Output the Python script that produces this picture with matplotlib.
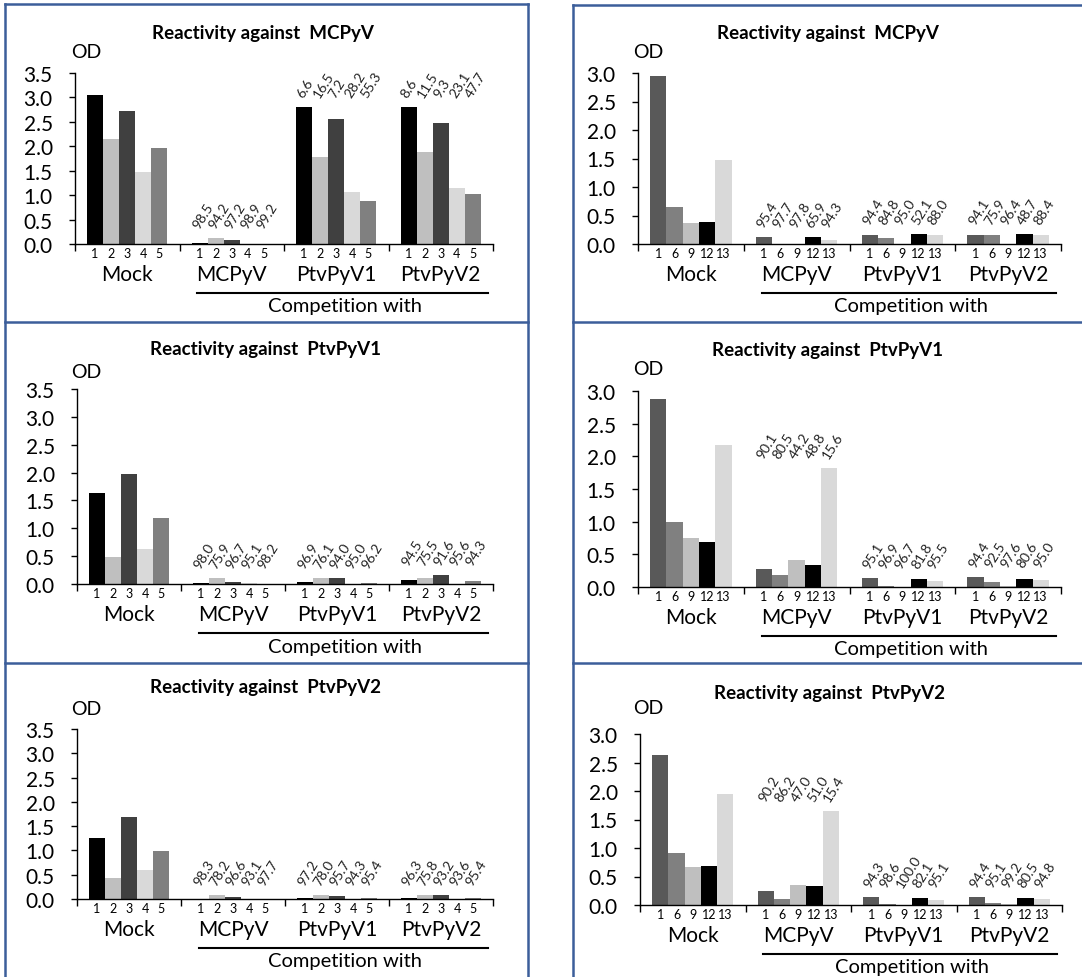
import numpy as np
import matplotlib
matplotlib.use('Agg')
import matplotlib.pyplot as plt
from matplotlib.transforms import ScaledTranslation
from matplotlib.lines import Line2D

plt.rcParams['font.family'] = ['Lato', 'DejaVu Sans']

W, H = 1082, 978

# ---- data -------------------------------------------------------------
groups = ['Mock', 'MCPyV', 'PtvPyV1', 'PtvPyV2']

# left column: sera 1-5
sera_left = ['1', '2', '3', '4', '5']
colors_left = ['#000000', '#bfbfbf', '#404040', '#d9d9d9', '#808080']
# right column: sera 1, 6, 9, 12, 13
sera_right = ['1', '6', '9', '12', '13']
colors_right = ['#595959', '#808080', '#bfbfbf', '#000000', '#d9d9d9']

# OD per group (rows: Mock, MCPyV, PtvPyV1, PtvPyV2), columns = sera
od_l_mcpyv = [[3.05, 2.15, 2.73, 1.48, 1.97],
              [0.03, 0.12, 0.08, 0.005, 0.005],
              [2.80, 1.78, 2.55, 1.07, 0.87],
              [2.80, 1.89, 2.48, 1.14, 1.03]]
od_l_ptv1 = [[1.64, 0.48, 1.98, 0.62, 1.18],
             [0.02, 0.10, 0.04, 0.01, 0.005],
             [0.04, 0.10, 0.10, 0.005, 0.02],
             [0.08, 0.10, 0.16, 0.005, 0.06]]
od_l_ptv2 = [[1.25, 0.44, 1.68, 0.60, 0.98],
             [0.005, 0.08, 0.04, 0.005, 0.005],
             [0.02, 0.08, 0.06, 0.005, 0.02],
             [0.02, 0.08, 0.08, 0.005, 0.02]]
od_r_mcpyv = [[2.95, 0.65, 0.36, 0.38, 1.47],
              [0.12, 0.005, 0.005, 0.12, 0.07],
              [0.16, 0.10, 0.005, 0.18, 0.16],
              [0.16, 0.16, 0.005, 0.18, 0.16]]
od_r_ptv1 = [[2.87, 0.99, 0.75, 0.69, 2.17],
             [0.27, 0.19, 0.41, 0.34, 1.82],
             [0.14, 0.02, 0.005, 0.12, 0.09],
             [0.15, 0.07, 0.01, 0.12, 0.10]]
od_r_ptv2 = [[2.63, 0.92, 0.66, 0.68, 1.94],
             [0.25, 0.11, 0.35, 0.33, 1.65],
             [0.14, 0.01, 0.005, 0.12, 0.09],
             [0.14, 0.04, 0.01, 0.12, 0.10]]

# % competition (rows: MCPyV, PtvPyV1, PtvPyV2 competitor)
pct_l_mcpyv = [['98.5', '94.2', '97.2', '98.9', '99.2'],
               ['6.6', '16.5', '7.2', '28.2', '55.3'],
               ['8.6', '11.5', '9.3', '23.1', '47.7']]
pct_l_ptv1 = [['98.0', '75.9', '96.7', '95.1', '98.2'],
              ['96.9', '76.1', '94.0', '95.0', '96.2'],
              ['94.5', '75.5', '91.6', '95.6', '94.3']]
pct_l_ptv2 = [['98.3', '78.2', '96.6', '93.1', '97.7'],
              ['97.2', '78.0', '95.7', '94.3', '95.4'],
              ['96.3', '75.8', '93.2', '93.6', '95.4']]
pct_r_mcpyv = [['95.4', '97.7', '97.8', '65.9', '94.3'],
               ['94.4', '84.8', '95.0', '52.1', '88.0'],
               ['94.1', '75.9', '96.4', '48.7', '88.4']]
pct_r_ptv1 = [['90.1', '80.5', '44.2', '48.8', '15.6'],
              ['95.1', '96.9', '96.7', '81.8', '95.5'],
              ['94.4', '92.5', '97.6', '80.6', '95.0']]
pct_r_ptv2 = [['90.2', '86.2', '47.0', '51.0', '15.4'],
              ['94.3', '98.6', '100.0', '82.1', '95.1'],
              ['94.4', '95.1', '99.2', '80.5', '94.8']]

# panel: (title, od, pct, sera, colors, ymax, axes box in px: x0, x1, ytop, ybot, title pos, OD pos)
panels = [
    ('Reactivity against  MCPyV', od_l_mcpyv, pct_l_mcpyv, sera_left, colors_left, 3.5,
     (75, 493, 74, 245), (263, 33), (86, 53)),
    ('Reactivity against  PtvPyV1', od_l_ptv1, pct_l_ptv1, sera_left, colors_left, 3.5,
     (77, 493, 390, 585), (265, 350), (86, 372)),
    ('Reactivity against  PtvPyV2', od_l_ptv2, pct_l_ptv2, sera_left, colors_left, 3.5,
     (77, 493, 730, 900), (265, 688), (86, 710)),
    ('Reactivity against  MCPyV', od_r_mcpyv, pct_r_mcpyv, sera_right, colors_right, 3.0,
     (638, 1061, 74, 245), (828, 33), (648, 52)),
    ('Reactivity against  PtvPyV1', od_r_ptv1, pct_r_ptv1, sera_right, colors_right, 3.0,
     (638, 1061, 392, 588), (828, 351), (648, 370)),
    ('Reactivity against  PtvPyV2', od_r_ptv2, pct_r_ptv2, sera_right, colors_right, 3.0,
     (640, 1062, 735, 906), (830, 693), (648, 708)),
]

fig = plt.figure(figsize=(W / 100, H / 100), dpi=100)


def fx(x):
    return x / W


def fy(y):
    return 1 - y / H


# blue panel frames
frame_col = '#3c5e9a'
for xs, ys in [([5, 5], [5, 978]), ([528, 528], [5, 978]), ([5, 528], [5, 5]),
               ([5, 528], [323, 323]), ([5, 528], [664, 664]),
               ([573, 573], [6, 978]), ([573, 1082], [6, 6]),
               ([573, 1082], [323, 323]), ([573, 1082], [664, 664])]:
    fig.add_artist(Line2D([fx(v) for v in xs], [fy(v) for v in ys],
                          color=frame_col, lw=1.8))

nbar = 5
bw = 0.154
for title, od, pct, sera, cols, ymax, box, tpos, odpos in panels:
    x0, x1, yt, yb = box
    ax = fig.add_axes([fx(x0), fy(yb), fx(x1 - x0), (yb - yt) / H])
    od = np.array(od)
    offs = (np.arange(nbar) - (nbar - 1) / 2) * bw
    centers = []
    for g in range(len(groups)):
        xs = g + 0.5 + offs
        centers.extend(xs)
        ax.bar(xs, od[g], width=bw, color=cols, edgecolor='none')
        if g > 0:
            gmax = od[g].max()
            for k in range(nbar):
                ax.annotate(pct[g - 1][k], xy=(xs[k], gmax), xytext=(-3, 8),
                            textcoords='offset points', rotation=58,
                            rotation_mode='anchor', ha='left', va='center',
                            fontsize=10, color='#222222')
    ax.set_xlim(0, len(groups))
    ax.set_ylim(0, ymax)
    ax.set_yticks(np.arange(0, ymax + 0.01, 0.5))
    ax.set_yticklabels(['%.1f' % v for v in np.arange(0, ymax + 0.01, 0.5)], fontsize=15)
    ax.set_xticks(np.arange(len(groups) + 1))
    ax.set_xticklabels([])
    ax.set_xticks(centers, minor=True)
    ax.set_xticklabels(sera * len(groups), minor=True, fontsize=9)
    ax.tick_params(axis='x', which='major', direction='out', length=5, width=1)
    ax.tick_params(axis='x', which='minor', length=0, pad=2)
    ax.tick_params(axis='y', direction='out', length=4, width=1, pad=12)
    for s in ['top', 'right']:
        ax.spines[s].set_visible(False)
    for s in ['left', 'bottom']:
        ax.spines[s].set_linewidth(1)

    base = ax.get_xaxis_transform()
    for g, name in enumerate(groups):
        tr = base + ScaledTranslation(0, -30 / 100, fig.dpi_scale_trans)
        ax.text(g + 0.5, 0, name, transform=tr, ha='center', va='center',
                fontsize=15, clip_on=False)
    tr = base + ScaledTranslation(0, -49 / 100, fig.dpi_scale_trans)
    ax.plot([1.17, 3.95], [0, 0], transform=tr, color='black', lw=1.5, clip_on=False)
    tr = base + ScaledTranslation(0, -62 / 100, fig.dpi_scale_trans)
    ax.text(2.58, 0, 'Competition with', transform=tr, ha='center', va='center',
            fontsize=14.5, clip_on=False)

    fig.text(fx(tpos[0]), fy(tpos[1]), title, ha='center', va='center',
             fontsize=13.5, fontweight='bold')
    fig.text(fx(odpos[0]), fy(odpos[1]), 'OD', ha='center', va='center', fontsize=14)

fig.savefig('out.png', dpi=100)
